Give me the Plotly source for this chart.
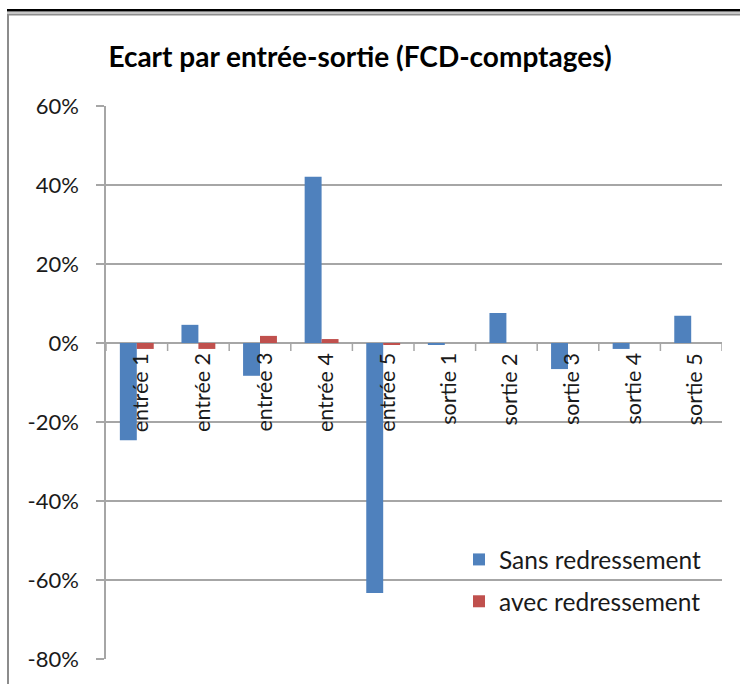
import plotly.graph_objects as go

# Categories and series values (fraction, shown as %)
categories = ["entrée 1", "entrée 2", "entrée 3", "entrée 4", "entrée 5",
              "sortie 1", "sortie 2", "sortie 3", "sortie 4", "sortie 5"]
sans_redressement = [-0.246, 0.046, -0.083, 0.421, -0.633,
                     -0.005, 0.076, -0.066, -0.015, 0.069]
avec_redressement = [-0.015, -0.015, 0.018, 0.010, -0.004,
                     0.0, 0.0, 0.0, 0.0, 0.0]
y_tick_values = [-0.8, -0.6, -0.4, -0.2, 0.0, 0.2, 0.4, 0.6]
y_tick_labels = ["-80%", "-60%", "-40%", "-20%", "0%", "20%", "40%", "60%"]

FONT = "Lato"
GRID = "#a6a6a6"
W, H = 740, 684
L, R, T, B = 106, 18, 106, 25
pw, ph = W - L - R, H - T - B


def px_x(p):
    return (p - L) / pw


def px_y(p):
    return (H - B - p) / ph


fig = go.Figure()
fig.add_trace(go.Bar(x=categories, y=sans_redressement, name="Sans redressement",
                     marker=dict(color="#4F81BD", line=dict(width=0)),
                     legendgroup="a"))
fig.add_trace(go.Bar(x=categories, y=avec_redressement, name="avec redressement",
                     marker=dict(color="#C0504D", line=dict(width=0)),
                     legendgroup="b"))

shapes = []
# zero line acting as the category axis, with tick marks between categories
shapes.append(dict(type="line", xref="paper", yref="y", x0=0, x1=1, y0=0, y1=0,
                   line=dict(color=GRID, width=1.5), layer="below"))
for k in range(len(categories) + 1):
    shapes.append(dict(type="line", xref="x", yref="y", ysizemode="pixel",
                       yanchor=0, x0=k - 0.5, x1=k - 0.5, y0=0, y1=-8,
                       line=dict(color=GRID, width=1.5)))

# chart frame
shapes.append(dict(type="line", xref="paper", yref="paper",
                   x0=px_x(7), x1=px_x(742), y0=px_y(10), y1=px_y(10),
                   line=dict(color="black", width=2)))
shapes.append(dict(type="line", xref="paper", yref="paper",
                   x0=px_x(7), x1=px_x(742), y0=px_y(11.8), y1=px_y(11.8),
                   line=dict(color="#444444", width=1)))
shapes.append(dict(type="line", xref="paper", yref="paper",
                   x0=px_x(7), x1=px_x(742), y0=px_y(14.5), y1=px_y(14.5),
                   line=dict(color="#8c8c8c", width=2)))
shapes.append(dict(type="line", xref="paper", yref="paper",
                   x0=px_x(8), x1=px_x(8), y0=px_y(14.5), y1=px_y(690),
                   line=dict(color="#8c8c8c", width=2)))

annotations = []
for c in categories:
    annotations.append(dict(x=c, y=0, xref="x", yref="y", text=c,
                            showarrow=False, textangle=-90,
                            xanchor="center", yanchor="top", yshift=-8, xshift=3,
                            font=dict(family=FONT, size=21.5, color="#1a1a1a")))

fig.update_layout(
    width=W, height=H,
    margin=dict(l=L, r=R, t=T, b=B),
    paper_bgcolor="white", plot_bgcolor="white",
    barmode="group", bargap=0.45, bargroupgap=0,
    title=dict(text="<b>Ecart par entrée-sortie (FCD-comptages)</b>",
               x=360 / W, xanchor="center",
               y=1 - 57 / H, yanchor="middle",
               font=dict(family=FONT, size=28, color="black")),
    xaxis=dict(range=[-0.5, len(categories) - 0.5], showticklabels=False,
               showgrid=False, zeroline=False, ticks="", showline=False),
    yaxis=dict(range=[-0.8, 0.6], tickvals=y_tick_values, ticktext=y_tick_labels,
               showgrid=True, gridcolor=GRID, gridwidth=1.5, zeroline=False,
               showline=True, linecolor=GRID, linewidth=1.5,
               ticks="outside", ticklen=8, tickcolor=GRID, tickwidth=1.5,
               ticklabelstandoff=13,
               tickfont=dict(family=FONT, size=22, color="#1a1a1a")),
    legend=dict(x=px_x(459), y=px_y(537), xanchor="left", yanchor="top",
                bgcolor="rgba(0,0,0,0)", tracegroupgap=7,
                font=dict(family=FONT, size=24.5, color="#1a1a1a")),
    shapes=shapes,
    annotations=annotations,
)

fig.write_html("out.html")
